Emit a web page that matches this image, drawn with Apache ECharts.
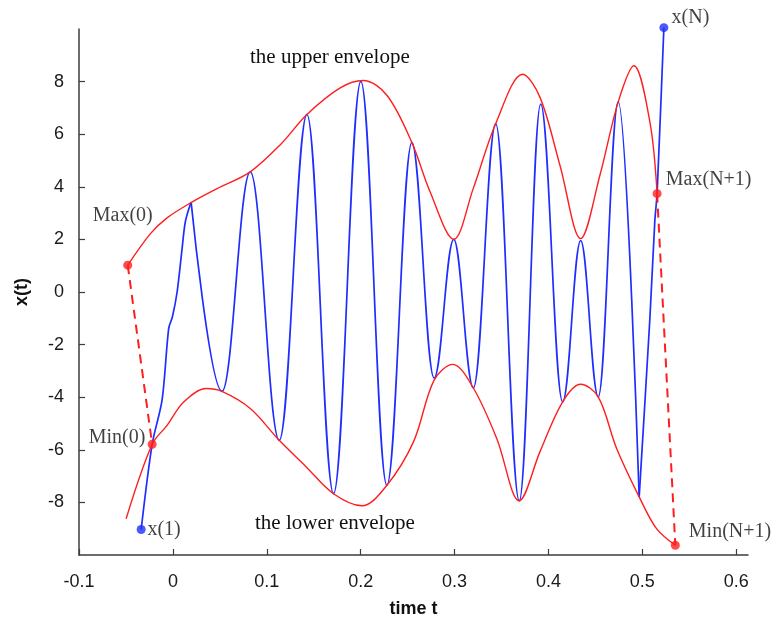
<!DOCTYPE html>
<html>
<head>
<meta charset="utf-8">
<script src="https://cdn.jsdelivr.net/npm/echarts@6/dist/echarts.min.js"></script>
<style>
  html, body { margin: 0; padding: 0; background: #ffffff; }
  #chart { width: 773px; height: 624px; }
</style>
</head>
<body>
<div id="chart"></div>
<script>
// Axis ticks
const xTicks = [-0.1, 0, 0.1, 0.2, 0.3, 0.4, 0.5, 0.6];
const yTicks = [-8, -6, -4, -2, 0, 2, 4, 6, 8];

// Signal x(t): rising lead-in up to the first maximum
const headT = [-0.0338, -0.0221, -0.0115, -0.0045, -0.0005, 0.0045, 0.0098, 0.0133, 0.0194];
const headY = [-9.03, -5.79, -4.10, -1.39, -0.94, 0.00, 1.65, 2.68, 3.42];

// Signal x(t): alternating extrema of the oscillation
const waveT = [0.0194, 0.0523, 0.0824, 0.1133, 0.1428, 0.1711, 0.2002, 0.2279, 0.2545, 0.2782,
               0.2991, 0.3200, 0.3438, 0.3689, 0.3917, 0.4151, 0.4343, 0.4530, 0.4743, 0.4966];
const waveY = [3.42, -3.78, 4.57, -5.64, 6.75, -7.67, 8.01, -7.35, 5.68, -3.27,
               2.00, -3.65, 6.40, -7.94, 7.14, -4.18, 1.95, -3.99, 7.23, -7.79];

// Signal x(t): final rise to the last sample
const tailT = [0.4966, 0.5080, 0.5133, 0.5157, 0.5229];
const tailY = [-7.79, -1.01, 2.73, 3.74, 10.05];

// Upper envelope
const upperT = [-0.0481, -0.0239, -0.0062, 0.0194, 0.0470, 0.0824, 0.1144, 0.1428, 0.1782, 0.2027,
                0.2279, 0.2545, 0.2739, 0.2991, 0.3200, 0.3438, 0.3726, 0.3910, 0.4122, 0.4343,
                0.4548, 0.4743, 0.4910, 0.5080, 0.5157];
const upperY = [1.02, 2.22, 2.82, 3.40, 3.93, 4.57, 5.60, 6.75, 7.76, 8.04,
                7.48, 5.68, 3.81, 2.00, 3.95, 6.40, 8.28, 7.40, 4.82, 2.03,
                4.44, 7.23, 8.60, 6.47, 3.74];

// Lower envelope
const lowerT = [-0.0498, -0.0221, -0.0062, 0.0115, 0.0356, 0.0523, 0.0824, 0.1133, 0.1420, 0.1711,
                0.2013, 0.2279, 0.2562, 0.2782, 0.2981, 0.3200, 0.3449, 0.3689, 0.3910, 0.4151,
                0.4343, 0.4530, 0.4726, 0.4966, 0.5151, 0.5351];
const lowerY = [-8.62, -5.79, -5.07, -4.18, -3.67, -3.78, -4.43, -5.64, -6.65, -7.67,
                -8.13, -7.35, -5.70, -3.35, -2.75, -3.65, -5.57, -7.94, -6.07, -4.18,
                -3.51, -3.99, -5.95, -7.79, -9.00, -9.63];

// Boundary extrema (red) and end samples (blue)
const boundNames = ['Max(0)', 'Min(0)', 'Max(N+1)', 'Min(N+1)'];
const boundT = [-0.0481, -0.0221, 0.5157, 0.5351];
const boundY = [1.02, -5.79, 3.74, -9.63];

const endNames = ['x(1)', 'x(N)'];
const endT = [-0.0338, 0.5229];
const endY = [-9.03, 10.05];

const BLUE = '#1f2eff';
const RED = '#ff1e1e';
const SERIF = '"Liberation Serif", "DejaVu Serif", serif';
const SANS = '"Liberation Sans", Arial, sans-serif';

const zip = (xs, ys) => xs.map((x, i) => [x, ys[i]]);

// label placement for each annotated point
const labelPlace = {
  'Max(0)':   { position: [-0.5, -44.5], align: 'center' },
  'Min(0)':   { position: [-2.2, -2.2], align: 'right' },
  'Max(N+1)': { position: [13.2, -9.5], align: 'left' },
  'Min(N+1)': { position: [18, -9.2], align: 'left' },
  'x(1)':     { position: [10.8, 4.5], align: 'left' },
  'x(N)':     { position: [12.2, -5.8], align: 'left' }
};

function pointItems(names, ts, ys) {
  return names.map((n, i) => ({
    name: n,
    value: [ts[i], ys[i]],
    label: Object.assign({ show: true, formatter: n, verticalAlign: 'middle' }, labelPlace[n])
  }));
}

const chart = echarts.init(document.getElementById('chart'), null, { renderer: 'canvas' });

chart.setOption({
  animation: false,
  backgroundColor: '#ffffff',
  grid: { left: 79, right: 25, top: 29, bottom: 69, containLabel: false },
  xAxis: {
    type: 'value',
    min: -0.1,
    max: 0.6125,
    name: 'time t',
    nameLocation: 'middle',
    nameGap: 45,
    nameTextStyle: { fontFamily: SANS, fontWeight: 'bold', fontSize: 18, color: '#111' },
    axisLine: { onZero: false, lineStyle: { color: '#3c3c3c', width: 1.5 } },
    axisTick: { inside: true, length: 6, customValues: xTicks, lineStyle: { color: '#3c3c3c', width: 1.2 } },
    axisLabel: {
      customValues: xTicks,
      formatter: v => String(+(+v).toFixed(1)),
      fontFamily: SANS, fontSize: 18, color: '#1a1a1a', margin: 18
    },
    splitLine: { show: false }
  },
  yAxis: {
    type: 'value',
    min: -10,
    max: 10,
    interval: 2,
    name: 'x(t)',
    nameLocation: 'middle',
    nameGap: 48,
    nameRotate: 90,
    nameTextStyle: { fontFamily: SANS, fontWeight: 'bold', fontSize: 18, color: '#111' },
    axisLine: { show: true, onZero: false, lineStyle: { color: '#3c3c3c', width: 1.5 } },
    axisTick: { show: true, inside: true, length: 6, customValues: yTicks, lineStyle: { color: '#3c3c3c', width: 1.2 } },
    axisLabel: {
      customValues: yTicks,
      fontFamily: SANS, fontSize: 18, color: '#1a1a1a', margin: 15
    },
    splitLine: { show: false }
  },
  graphic: [
    { type: 'text', left: 250, top: 47,
      style: { text: 'the upper envelope', font: '21px ' + SERIF, fill: '#111' } },
    { type: 'text', left: 255, top: 513,
      style: { text: 'the lower envelope', font: '21px ' + SERIF, fill: '#111' } }
  ],
  series: [
    {
      type: 'line', data: zip(headT, headY), smooth: 0.3, showSymbol: false,
      lineStyle: { color: BLUE, width: 1.7 }, z: 2
    },
    {
      type: 'line', data: zip(waveT, waveY), smooth: 0.38, smoothMonotone: 'x', showSymbol: false,
      lineStyle: { color: BLUE, width: 1.7 }, z: 2
    },
    {
      type: 'line', data: zip(tailT, tailY), smooth: 0.2, showSymbol: false, clip: false,
      lineStyle: { color: BLUE, width: 1.7 }, z: 2
    },
    {
      type: 'line', data: zip(upperT, upperY), smooth: 0.34, showSymbol: false,
      lineStyle: { color: RED, width: 1.4 }, z: 3
    },
    {
      type: 'line', data: zip(lowerT, lowerY), smooth: 0.34, showSymbol: false,
      lineStyle: { color: RED, width: 1.4 }, z: 3
    },
    {
      type: 'line', data: [[boundT[0], boundY[0]], [boundT[1], boundY[1]]], showSymbol: false,
      lineStyle: { color: RED, width: 2, type: [9, 6] }, z: 3
    },
    {
      type: 'line', data: [[boundT[2], boundY[2]], [boundT[3], boundY[3]]], showSymbol: false,
      lineStyle: { color: RED, width: 2, type: [9, 6] }, z: 3
    },
    {
      type: 'scatter', data: pointItems(boundNames, boundT, boundY), symbolSize: 9,
      itemStyle: { color: RED }, clip: false,
      label: { fontFamily: SERIF, fontSize: 20, color: '#111' }, z: 5
    },
    {
      type: 'scatter', data: pointItems(endNames, endT, endY), symbolSize: 9,
      itemStyle: { color: BLUE }, clip: false,
      label: { fontFamily: SERIF, fontSize: 20, color: '#111' }, z: 5
    }
  ]
});
</script>
</body>
</html>
